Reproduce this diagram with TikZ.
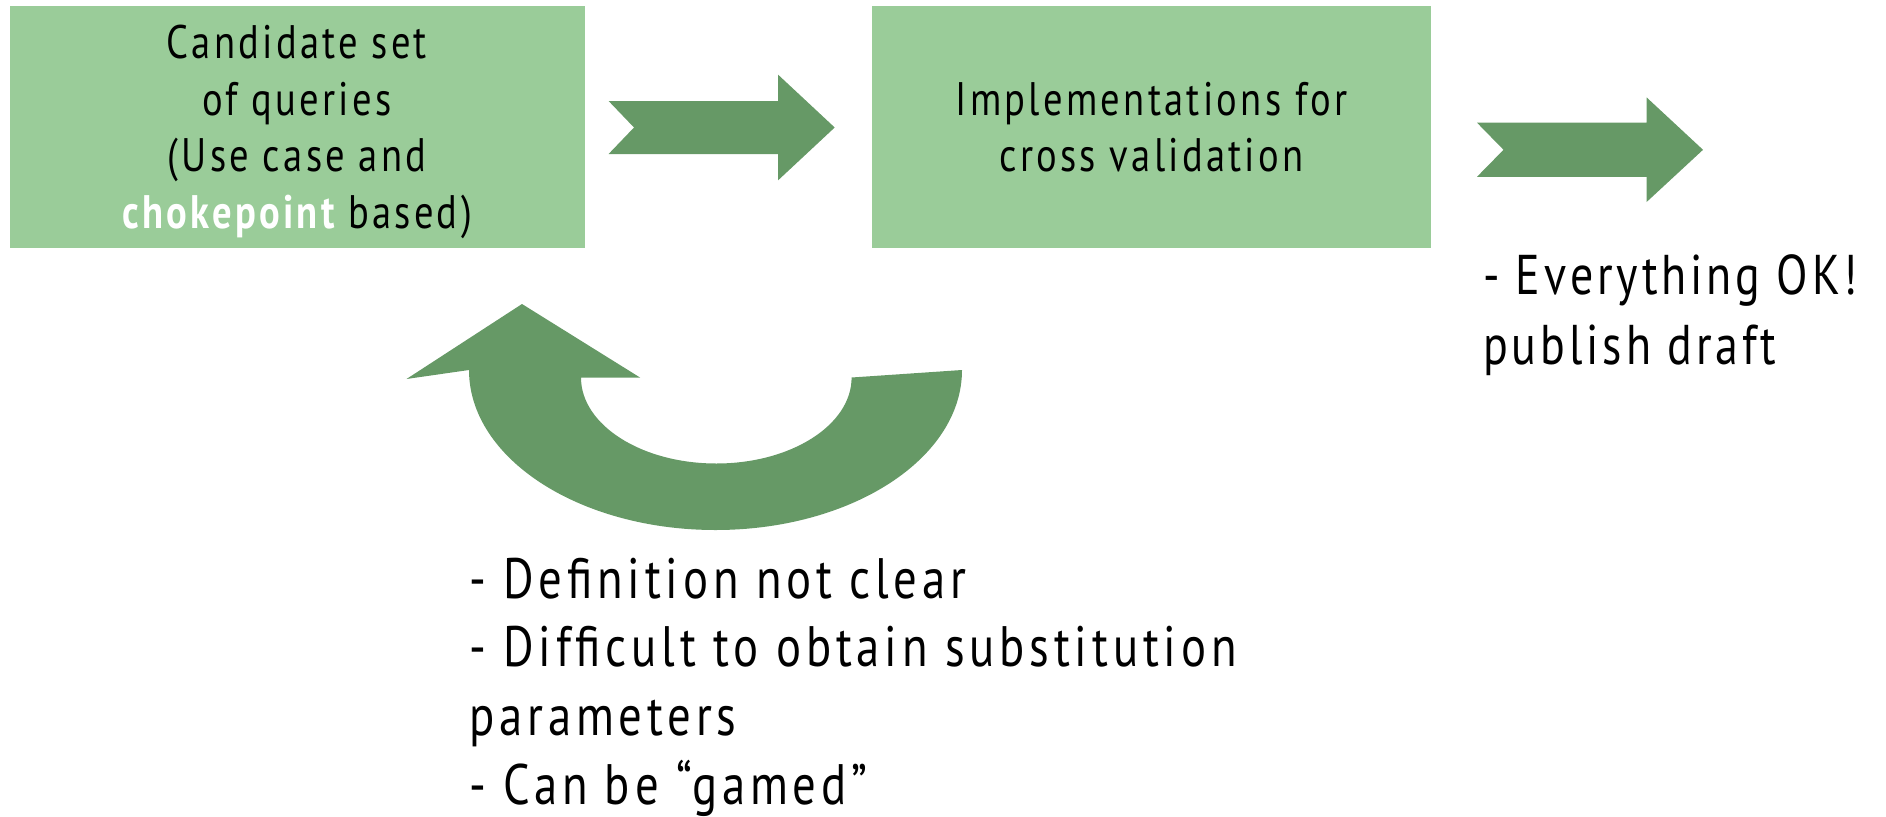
\documentclass[tikz,border=0pt]{standalone}
\usepackage{fontspec}
\setmainfont[FakeStretch=0.82,LetterSpace=7]{PT Sans}
\definecolor{boxgreen}{RGB}{154,204,153}
\definecolor{arrowgreen}{RGB}{102,153,102}
\begin{document}
\begin{tikzpicture}[x=1pt,y=1pt,
  stagebox/.style={fill=boxgreen,draw=none,inner sep=0pt,align=center,font=\fontsize{47}{56.7}\selectfont},
  plaintext/.style={inner sep=0pt,align=left,anchor=west},
  blockarrow/.style={fill=arrowgreen,draw=none}]
\useasboundingbox (0,0) rectangle (1886,-816);
% boxes
\node[stagebox,minimum width=575pt,minimum height=242pt] (cand) at (297,-127) {};
\node[stagebox,align=center] (candtext) at (297,-132)
  {Candidate set\\of queries\\(Use case and\\\textcolor{white}{\bfseries chokepoint} based)};
\node[stagebox,minimum width=559pt,minimum height=242pt] (impl) at (1151.5,-127)
  {Implementations for\\cross validation};
% straight arrows
\fill[blockarrow] (608.6,-101) -- (778,-101) -- (778,-74.6) -- (834.7,-127.5) -- (778,-180.4)
  -- (778,-154) -- (608.6,-154) -- (634,-127.5) -- cycle;
\fill[blockarrow] (1477,-122.7) -- (1646.6,-122.7) -- (1646.6,-97.4) -- (1703,-149.8) -- (1646.6,-202)
  -- (1646.6,-176.8) -- (1477,-176.8) -- (1503.5,-149.8) -- cycle;
% curved feedback arrow
\fill[blockarrow] (962,-370) arc[start angle=0,end angle=-180,x radius=246.5,y radius=160]
  -- (406.5,-379) -- (522,-304) -- (640,-377.5) -- (581,-377.5)
  arc[start angle=180,end angle=360,x radius=135.3,y radius=86]
  -- cycle;
% texts
\node[plaintext,font=\fontsize{56}{70}\selectfont] (ok) at (1483,-315)
  {- Everything OK!\\publish draft};
\node[plaintext,font=\fontsize{57}{68.6}\selectfont\addfontfeatures{LetterSpace=8.5}] (issues) at (469,-687)
  {- Definition not clear\\- Difficult to obtain substitution\\parameters\\- Can be ``gamed''};
\end{tikzpicture}
\end{document}
